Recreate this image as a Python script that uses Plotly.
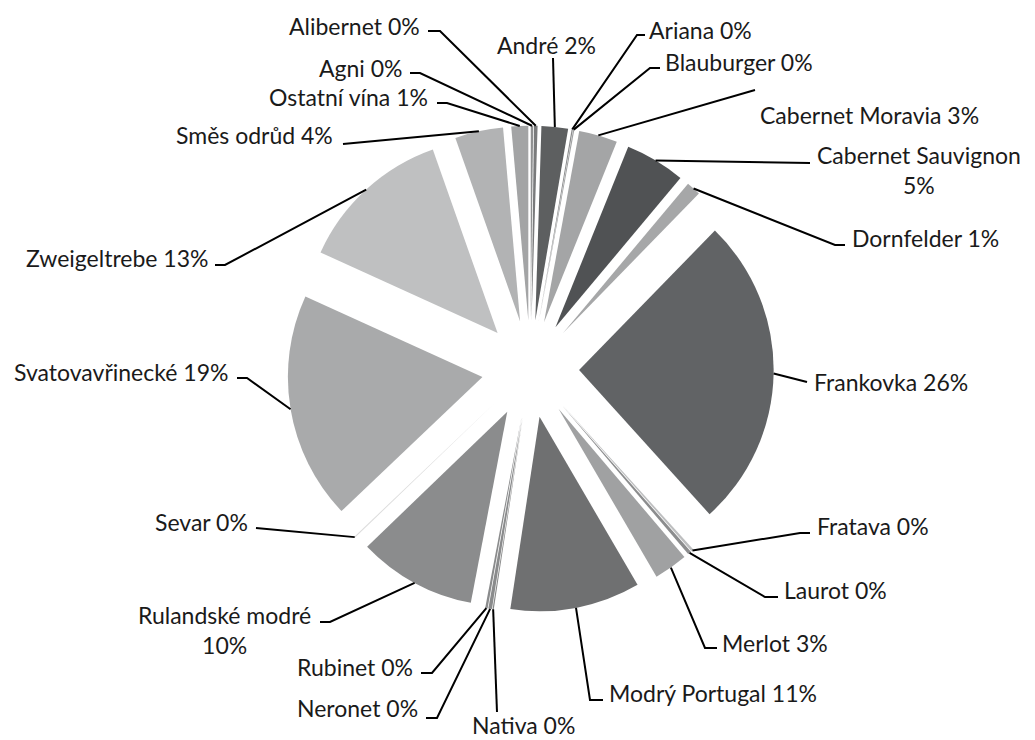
import math
import plotly.graph_objects as go

# ---------------- data ----------------
categories = [
    "Agni", "Alibernet", "André", "Ariana", "Blauburger", "Cabernet Moravia",
    "Cabernet Sauvignon", "Dornfelder", "Frankovka", "Fratava", "Laurot", "Merlot",
    "Modrý Portugal", "Nativa", "Neronet", "Rubinet", "Rulandské modré", "Sevar",
    "Svatovavřinecké", "Zweigeltrebe", "Směs odrůd", "Ostatní vína",
]
values = [
    0.2, 0.3, 2.2, 0.1, 0.1, 3.2,
    5.0, 1.2, 26.0, 0.2, 0.3, 2.8,
    10.8, 0.1, 0.3, 0.2, 9.8, 0.1,
    18.9, 12.8, 4.0, 1.4,
]
slice_colors = [
    "#8f9091", "#7a7b7c", "#5d5f60", "#8a8b8c", "#a0a1a2", "#a4a5a6",
    "#505254", "#a6a7a8", "#616365", "#bdbebf", "#8c8d8e", "#a0a1a2",
    "#6f7071", "#888989", "#8a8b8c", "#8a8b8c", "#8b8c8d", "#dcdcdc",
    "#a9aaab", "#bfc0c1", "#b2b3b4", "#a3a4a5",
]
two_line = {"Cabernet Sauvignon", "Rulandské modré"}

# ---------------- layout constants ----------------
W, H = 1035, 740
PULL = 0.25
DOM_X = [0.2775, 0.7475]
DOM_Y = [0.1714, 0.8314]
FONT = "Lato, Calibri, Carlito, sans-serif"
FSIZE = 23

# label placement: (text x, text y, xanchor, leader points from label toward slice)
label_pos = {
    "Agni": (405, 68, "right", [(410, 73), (420, 73)]),
    "Alibernet": (422, 26, "right", [(428, 31), (440, 31)]),
    "André": (546, 45, "center", [(553, 58)]),
    "Ariana": (647, 30, "left", [(645, 35), (637, 35)]),
    "Blauburger": (663, 62, "left", [(660, 68), (650, 68)]),
    "Cabernet Moravia": (758, 115, "left", [(755, 90)]),
    "Cabernet Sauvignon": (815, 170, "left", [(810, 163)]),
    "Dornfelder": (850, 238, "left", [(845, 245), (835, 245)]),
    "Frankovka": (812, 382, "left", [(807, 382)]),
    "Fratava": (815, 526, "left", [(810, 533), (800, 533)]),
    "Laurot": (782, 590, "left", [(778, 597), (765, 597)]),
    "Merlot": (720, 643, "left", [(717, 648), (705, 648)]),
    "Modrý Portugal": (607, 693, "left", [(603, 700), (590, 700)]),
    "Nativa": (523, 725, "center", [(497, 712)]),
    "Neronet": (420, 708, "right", [(426, 718), (437, 718)]),
    "Rubinet": (415, 667, "right", [(421, 673), (432, 673)]),
    "Rulandské modré": (313, 630, "right", [(320, 622), (330, 622)]),
    "Sevar": (250, 522, "right", [(256, 528)]),
    "Svatovavřinecké": (230, 372, "right", [(237, 378), (247, 378)]),
    "Zweigeltrebe": (210, 258, "right", [(215, 265), (225, 265)]),
    "Směs odrůd": (335, 135, "right", [(343, 144)]),
    "Ostatní vína": (430, 97, "right", [(437, 103), (447, 103)]),
}

fig = go.Figure(go.Pie(
    labels=categories,
    values=values,
    sort=False,
    direction="clockwise",
    rotation=0,
    pull=[PULL] * len(values),
    marker=dict(colors=slice_colors, line=dict(width=0)),
    textinfo="none",
    hoverinfo="label+percent",
    domain=dict(x=DOM_X, y=DOM_Y),
    showlegend=False,
))

# pie geometry (same formula plotly uses)
box_w = W * (DOM_X[1] - DOM_X[0])
box_h = H * (DOM_Y[1] - DOM_Y[0])
r = min(box_w, box_h) / (2 + 2 * PULL)
cx = W * (DOM_X[0] + DOM_X[1]) / 2
cy = H * (1 - DOM_Y[0]) - box_h / 2

total = sum(values)


def px(x, y):
    return x / W, 1 - y / H


shapes = []
annotations = []
cum = 0.0
for name, v in zip(categories, values):
    mid = (cum + v / 2) / total
    cum += v
    th = 2 * math.pi * mid
    ax = cx + (1 + PULL) * r * math.sin(th)
    ay = cy - (1 + PULL) * r * math.cos(th)
    tx, ty, anchor, pts = label_pos[name]
    pct = round(v / total * 100)
    sep = "<br>" if name in two_line else " "
    text = f"{name}{sep}{pct}%"
    annotations.append(dict(
        x=tx / W, y=1 - ty / H, xref="paper", yref="paper",
        text=text, showarrow=False, xanchor=anchor, yanchor="middle",
        align="center", font=dict(family=FONT, size=FSIZE, color="#1a1a1a"),
    ))
    path_pts = pts + [(ax, ay)]
    p = " ".join(
        ("M" if i == 0 else "L") + f" {px(x, y)[0]:.5f},{px(x, y)[1]:.5f}"
        for i, (x, y) in enumerate(path_pts)
    )
    shapes.append(dict(type="path", path=p, xref="paper", yref="paper",
                       line=dict(color="#000000", width=2)))

fig.update_layout(
    width=W, height=H,
    margin=dict(l=0, r=0, t=0, b=0),
    paper_bgcolor="white",
    plot_bgcolor="white",
    shapes=shapes,
    annotations=annotations,
)

fig.write_html(
    "out.html",
    config={"displayModeBar": False},
    post_script="document.body.style.margin='0px';",
)
